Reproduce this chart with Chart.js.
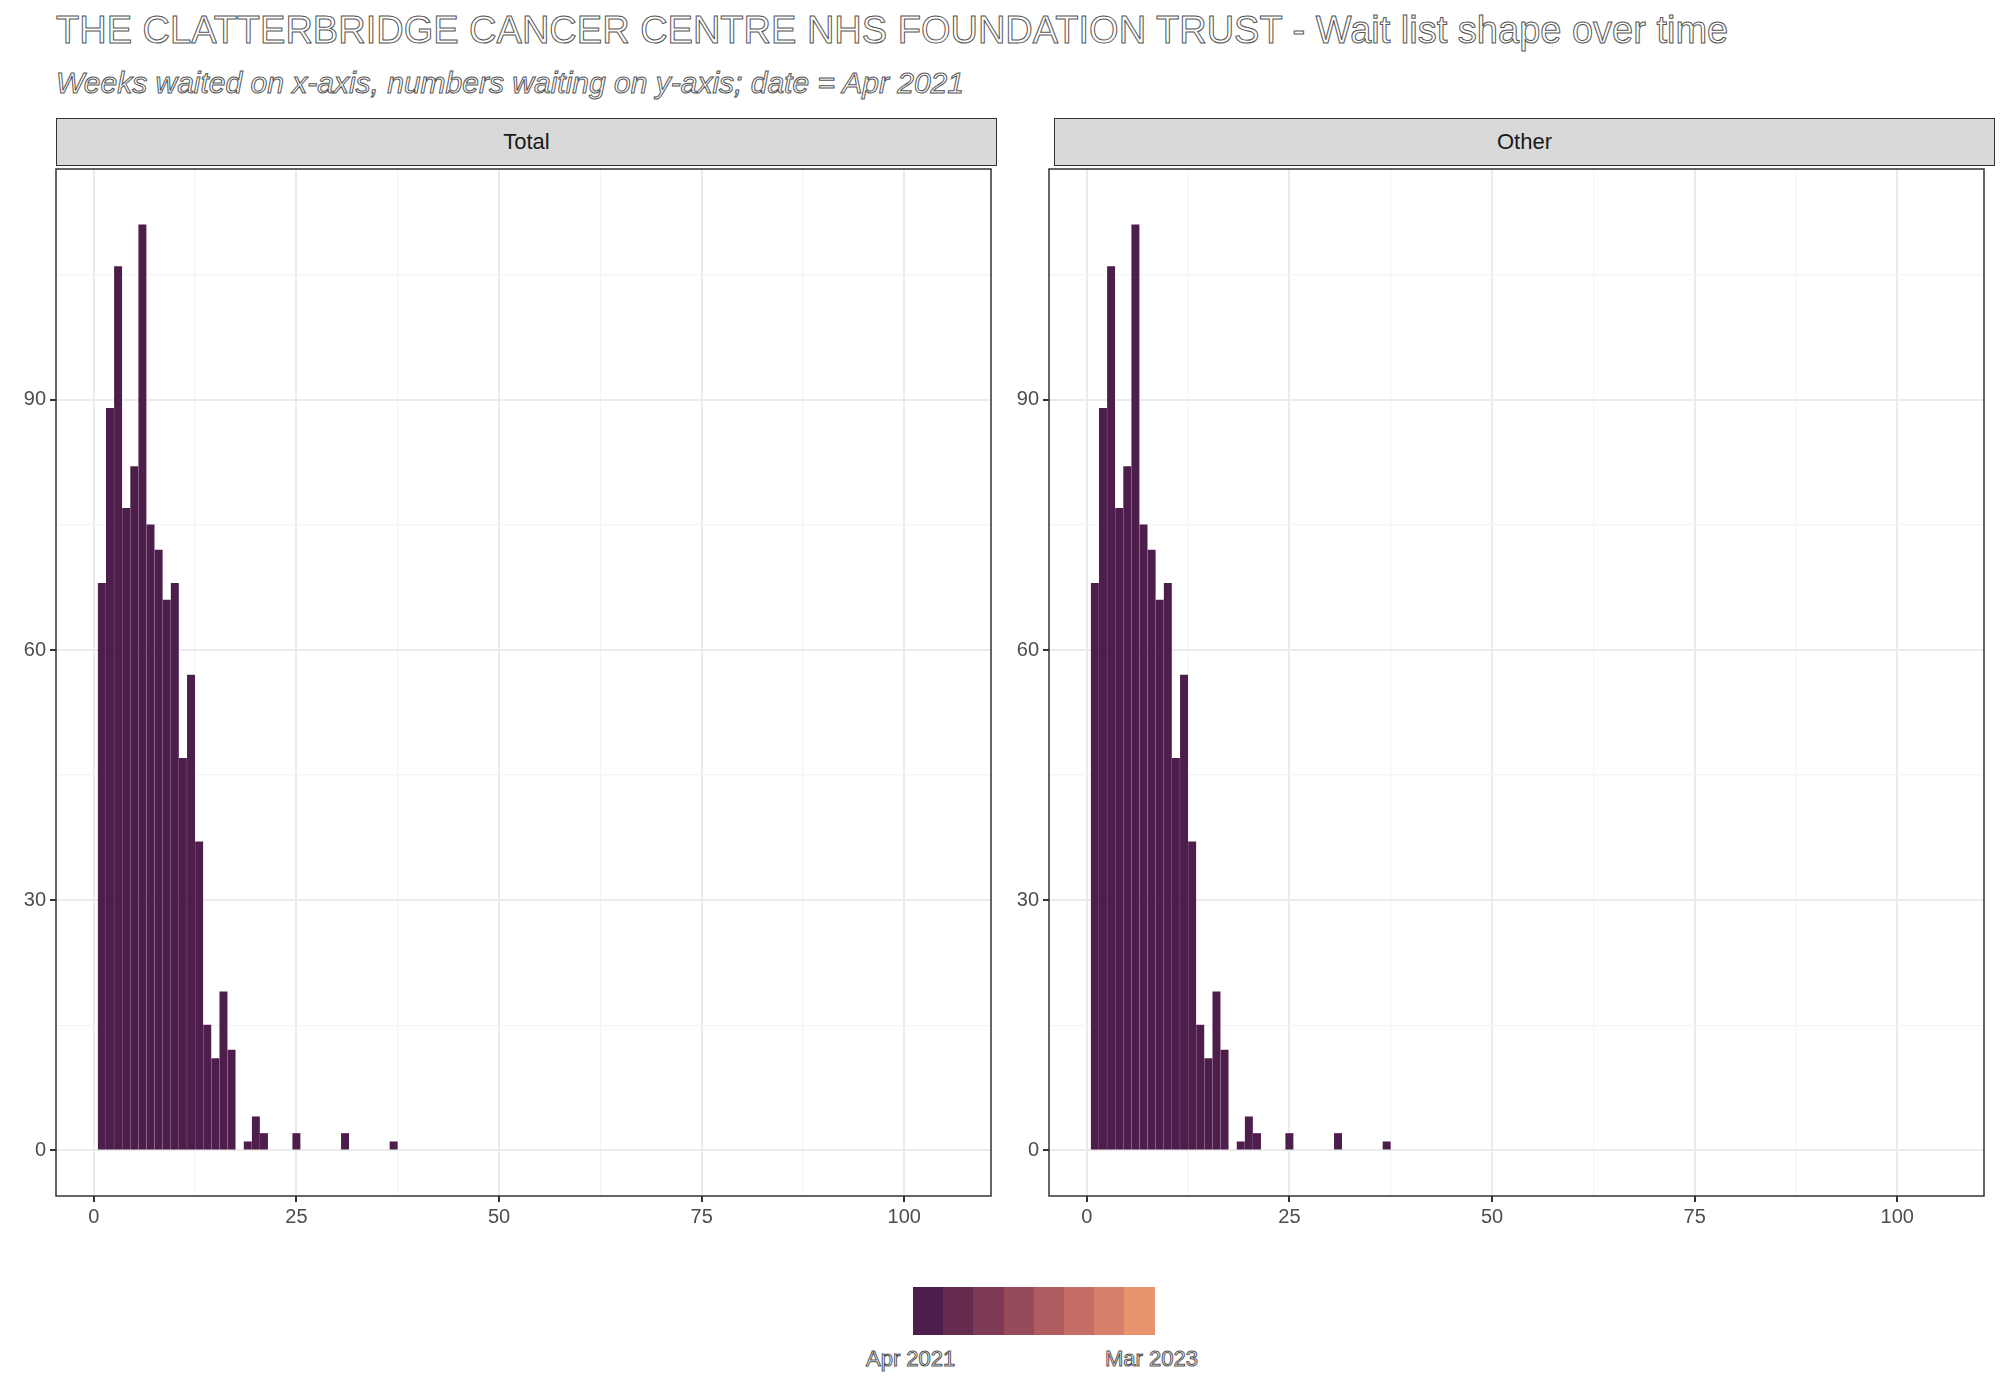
<!DOCTYPE html>
<html>
<head>
<meta charset="utf-8">
<script src="https://cdn.jsdelivr.net/npm/chart.js@4.4.1/dist/chart.umd.min.js"></script>
<style>
  body { margin: 0; background: #fff; font-family: Arial, "Liberation Sans", sans-serif; }
  #page { position: relative; width: 2000px; height: 1400px; }
  .out { position: absolute; color: #fff; -webkit-text-stroke: 1px #555; white-space: nowrap; }
  .strip { position: absolute; top: 118px; height: 48px; background: #d9d9d9; border: 1.5px solid #333;
           box-sizing: border-box; font-size: 22px; color: #1a1a1a; text-align: center; line-height: 46px; }
  canvas { position: absolute; }
  .sw { position: absolute; top: 1287px; height: 48px; }
</style>
</head>
<body>
<div id="page">
  <div class="out" style="left:56px;top:9px;font-size:38px;">THE CLATTERBRIDGE CANCER CENTRE NHS FOUNDATION TRUST - Wait list shape over time</div>
  <div class="out" style="left:56px;top:66px;font-size:30px;font-style:italic;">Weeks waited on x-axis, numbers waiting on y-axis; date = Apr 2021</div>
  <div class="strip" style="left:56px;width:941px;">Total</div>
  <div class="strip" style="left:1054px;width:941px;">Other</div>
  <div style="position:absolute;left:0;top:153px;width:1000px;height:1103px;"><canvas id="c1"></canvas></div>
  <div style="position:absolute;left:1000px;top:153px;width:1000px;height:1103px;"><canvas id="c2"></canvas></div>
  <div id="legend"></div>
  <div class="out" style="left:866px;top:1346px;font-size:22px;">Apr 2021</div>
  <div class="out" style="left:1105px;top:1346px;font-size:22px;">Mar 2023</div>
</div>
<script>
var panels = ['Total', 'Other'];
var weeks = [1, 2, 3, 4, 5, 6, 7, 8, 9, 10, 11, 12, 13, 14, 15, 16, 17, 19, 20, 21, 25, 31, 37];
var totalWaiting = [68, 89, 106, 77, 82, 111, 75, 72, 66, 68, 47, 57, 37, 15, 11, 19, 12, 1, 4, 2, 2, 2, 1];
var otherWaiting = [68, 89, 106, 77, 82, 111, 75, 72, 66, 68, 47, 57, 37, 15, 11, 19, 12, 1, 4, 2, 2, 2, 1];
var legendColours = ['#4d1d4b', '#662c50', '#7f3b55', '#974b5a', '#ae5c60', '#c46e66', '#d8806b', '#e9936f'];

var lg = document.getElementById('legend');
legendColours.forEach(function (c, i) {
  var d = document.createElement('div');
  d.className = 'sw';
  d.style.left = (913 + i * 30.2) + 'px';
  d.style.width = '31px';
  d.style.background = c;
  lg.appendChild(d);
});

var borderPlugin = {
  id: 'border',
  afterDraw: function (chart) {
    var a = chart.chartArea, ctx = chart.ctx;
    ctx.save();
    ctx.strokeStyle = '#333';
    ctx.lineWidth = 1.5;
    ctx.strokeRect(a.left, a.top, a.right - a.left, a.bottom - a.top);
    ctx.restore();
  }
};

function makeChart(id, values, yWidth, padRight) {
  var pts = weeks.map(function (w, i) { return { x: w, y: values[i] }; });
  return new Chart(document.getElementById(id), {
    type: 'bar',
    data: { datasets: [{ data: pts, backgroundColor: '#4d1d4b', barThickness: 7.3 }] },
    plugins: [borderPlugin],
    options: {
      responsive: true, maintainAspectRatio: false, animation: false,
      layout: { padding: { top: 0, right: padRight, left: 0, bottom: 0 } },
      plugins: { legend: { display: false }, tooltip: { enabled: false } },
      scales: {
        x: {
          type: 'linear', min: -4.66, max: 110.7, offset: false,
          afterBuildTicks: function (s) { var t = []; for (var v = 0; v <= 100; v += 12.5) t.push({ value: v }); s.ticks = t; },
          afterFit: function (s) { s.height = 60; },
          grid: {
            offset: false,
            color: function (c) { return (c.tick && c.tick.value % 25 === 0) ? '#ebebeb' : '#f4f4f4'; },
            lineWidth: function (c) { return (c.tick && c.tick.value % 25 === 0) ? 2 : 1.2; },
            tickLength: 6,
            tickColor: function (c) { return (c.tick && c.tick.value % 25 === 0) ? '#333' : 'rgba(0,0,0,0)'; }
          },
          border: { display: false },
          ticks: {
            autoSkip: false, maxRotation: 0, color: '#4d4d4d', font: { size: 20, family: 'Arial' },
            callback: function (v) { return v % 25 === 0 ? v : ''; }
          }
        },
        y: {
          min: -5.5, max: 117.7,
          afterBuildTicks: function (s) { var t = []; for (var v = 0; v <= 105; v += 15) t.push({ value: v }); s.ticks = t; },
          afterFit: function (s) { s.width = yWidth; },
          grid: {
            color: function (c) { return (c.tick && c.tick.value % 30 === 0) ? '#ebebeb' : '#f4f4f4'; },
            lineWidth: function (c) { return (c.tick && c.tick.value % 30 === 0) ? 2 : 1.2; },
            tickLength: 6,
            tickColor: function (c) { return (c.tick && c.tick.value % 30 === 0) ? '#333' : 'rgba(0,0,0,0)'; }
          },
          border: { display: false },
          ticks: {
            autoSkip: false, color: '#4d4d4d', font: { size: 20, family: 'Arial' }, padding: 4,
            callback: function (v) { return v % 30 === 0 ? v : ''; }
          }
        }
      }
    }
  });
}

makeChart('c1', totalWaiting, 56, 9);
makeChart('c2', otherWaiting, 49, 16);
</script>
</body>
</html>
